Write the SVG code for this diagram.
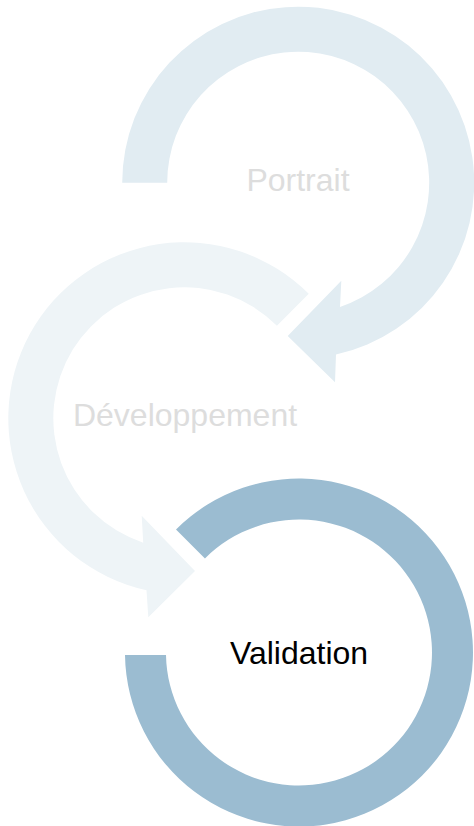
<svg xmlns="http://www.w3.org/2000/svg" width="474" height="826" viewBox="0 0 474 826">
  <style>
    .lbl { font-family: "Liberation Sans", Arial, Helvetica, sans-serif; font-size: 32px; text-anchor: middle; }
    .faint { fill: #DDDDDD; }
    .dark { fill: #000000; }
  </style>
  <rect width="474" height="826" fill="#FFFFFF"/>
  <g id="portrait">
    <path fill="#E1ECF2" d="M122.2,182.7 A176,176 0 1 1 336.0,354.6 L335,382.3 L287.7,336 L341.3,280.7 L340.0,306.9 A131,131 0 1 0 167.2,182.7 Z"/>
    <text class="lbl faint" x="298" y="191">Portrait</text>
  </g>
  <g id="developpement">
    <path fill="#EEF4F7" d="M308.75,293.85 A176,176 0 1 0 146.5,590.2 L148.3,617.3 L195,571 L141.7,515.7 L143.2,542.7 A131,131 0 1 1 276.93,325.67 Z"/>
    <text class="lbl faint" x="185" y="426">Développement</text>
  </g>
  <g id="validation">
    <path fill="#9BBCD1" d="M176.0,529.5 A174,174 0 1 1 125.0,655 L166.0,655 A133,133 0 1 0 204.95,558.45 Z"/>
    <text class="lbl dark" x="299" y="664">Validation</text>
  </g>
</svg>
